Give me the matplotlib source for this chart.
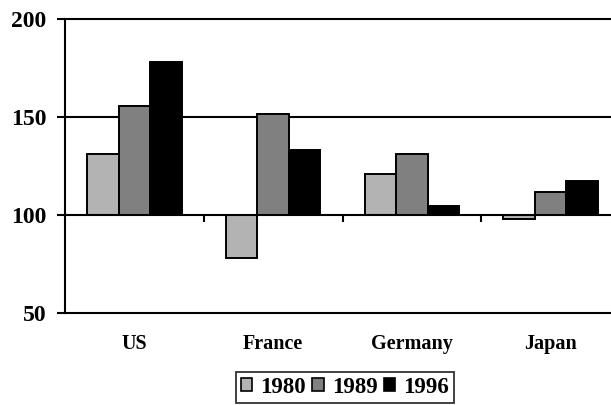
import matplotlib
matplotlib.use("Agg")
import matplotlib.pyplot as plt
import matplotlib.transforms as mtransforms
import numpy as np

categories = ["US", "France", "Germany", "Japan"]
series_names = ["1980", "1989", "1996"]
values_1980 = [131, 78, 121, 98]
values_1989 = [155.5, 151.5, 131, 111.5]
values_1996 = [178, 133, 104.5, 117.5]
yticks = [50, 100, 150, 200]
baseline = 100

colors = ["#b3b3b3", "#808080", "#000000"]
font = "Liberation Serif"

fig = plt.figure(figsize=(6.11, 4.05), dpi=100)
ax = fig.add_axes([65/611, 1-313/405, 555/611, 294/405])

x = np.arange(len(categories)) + 0.5
w = 0.227
all_vals = [values_1980, values_1989, values_1996]
for i, (vals, c, name) in enumerate(zip(all_vals, colors, series_names)):
    v = np.array(vals, dtype=float)
    ax.bar(x + (i - 1) * w, v - baseline, bottom=baseline, width=w,
           color=c, edgecolor="black", linewidth=1.4, label=name, zorder=3)

ax.set_xlim(0, len(categories))
ax.set_ylim(yticks[0], yticks[-1])
ax.set_yticks(yticks)
ax.set_yticklabels([str(t) for t in yticks], fontfamily=font,
                   fontweight="bold", fontsize=17)
for t in yticks:
    if t != baseline:
        ax.axhline(t, color="black", lw=1.5, clip_on=False, zorder=1)

for s in ["top", "right"]:
    ax.spines[s].set_visible(False)
ax.spines["left"].set_linewidth(1.5)
ax.spines["bottom"].set_position(("data", baseline))
ax.spines["bottom"].set_linewidth(1.5)
ax.spines["bottom"].set_zorder(4)

ax.set_xticks(np.arange(1, len(categories)))
ax.set_xticklabels([])
ax.tick_params(axis="x", direction="out", length=5, width=1.5)
ax.tick_params(axis="y", direction="out", length=6, width=1.5, pad=7.5)

trans = mtransforms.blended_transform_factory(ax.transData, ax.transAxes)
for xi, cat in zip(x, categories):
    ax.text(xi, -0.105, cat, transform=trans, ha="center", va="center",
            fontfamily=font, fontweight="bold", fontsize=14.5)

leg = fig.legend(loc="center", bbox_to_anchor=(345/611, 1-387.5/405), ncol=3,
                 prop={"family": font, "weight": "bold", "size": 16.5},
                 frameon=True, fancybox=False, edgecolor="black",
                 handlelength=0.5, handleheight=0.5, handletextpad=0.35,
                 columnspacing=0.28, borderpad=0.22, borderaxespad=0)
leg.get_frame().set_linewidth(1.3)
for h in leg.legend_handles:
    h.set_linewidth(1.2)

fig.savefig("out.png", dpi=100)
